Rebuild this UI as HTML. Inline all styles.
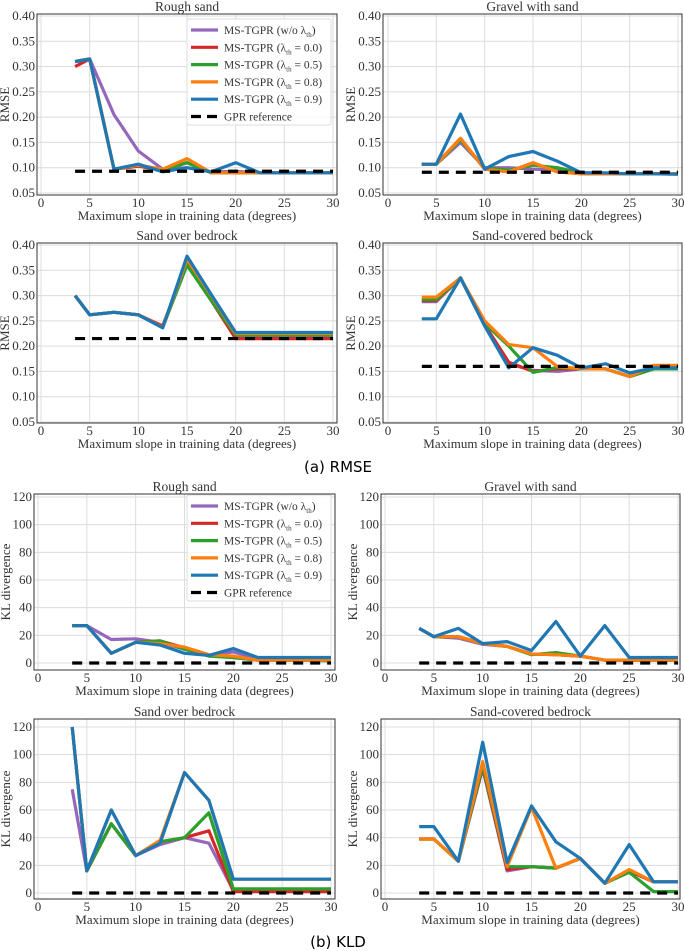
<!DOCTYPE html>
<html><head><meta charset="utf-8">
<style>
html,body{margin:0;padding:0;background:#fff;}
svg{display:block;}
text{font-family:"Liberation Serif",serif;fill:#333;}
.cap{font-family:"DejaVu Sans","Liberation Sans",sans-serif;fill:#000;}
</style></head>
<body>
<svg id="fig" width="685" height="951" viewBox="0 0 685 951" xmlns="http://www.w3.org/2000/svg">
<text class="cap" x="338" y="472" font-size="15" text-anchor="middle">(a) RMSE</text>
<text class="cap" x="338" y="947" font-size="15" text-anchor="middle">(b) KLD</text>
</svg>
<script>
const xs = [3.5,5,7.5,10,12.5,15,17.5,20,22.5,25,27.5,30];
const seriesNames = ["w/o","0.0","0.5","0.8","0.9"];
const seriesColors = ["#9467bd","#d62728","#2ca02c","#ff7f0e","#1f77b4"];
const xTicks = [0,5,10,15,20,25,30];
const rmseTicks = [0.05,0.10,0.15,0.20,0.25,0.30,0.35,0.40];
const rmseTickLabels = ["0.05","0.10","0.15","0.20","0.25","0.30","0.35","0.40"];
const kldTicks = [0,20,40,60,80,100,120];
const kldTickLabels = ["0","20","40","60","80","100","120"];

// RMSE Rough sand
const rmseRough_wo = [.31,.315,.205,.133,.097,.10,.092,.093,.09,.09,.09,.09];
const rmseRough_00 = [.30,.315,.097,.103,.095,.11,.09,.09,.09,.09,.09,.09];
const rmseRough_05 = [.31,.315,.097,.105,.095,.11,.09,.09,.09,.09,.09,.09];
const rmseRough_08 = [.31,.315,.097,.105,.097,.118,.09,.09,.09,.09,.09,.09];
const rmseRough_09 = [.31,.315,.097,.107,.092,.10,.092,.11,.09,.09,.09,.09];
const rmseRough_gpr = 0.093;
// RMSE Gravel with sand
const rmseGravel_wo = [.107,.107,.15,.10,.10,.097,.095,.09,.089,.088,.088,.088];
const rmseGravel_00 = [.107,.107,.158,.097,.092,.11,.092,.088,.088,.088,.088,.088];
const rmseGravel_05 = [.107,.107,.155,.10,.095,.105,.10,.09,.089,.088,.088,.088];
const rmseGravel_08 = [.107,.107,.158,.097,.092,.11,.092,.088,.088,.088,.088,.088];
const rmseGravel_09 = [.107,.107,.206,.097,.122,.132,.113,.09,.09,.088,.088,.087];
const rmseGravel_gpr = 0.091;
// RMSE Sand over bedrock
const rmseSob_wo = [.30,.262,.267,.262,.238,.37,.30,.218,.218,.218,.218,.218];
const rmseSob_00 = [.30,.262,.267,.262,.240,.365,.29,.215,.215,.215,.215,.215];
const rmseSob_05 = [.30,.262,.267,.262,.237,.36,.29,.222,.222,.222,.222,.222];
const rmseSob_08 = [.30,.262,.267,.262,.237,.372,.30,.225,.225,.225,.225,.225];
const rmseSob_09 = [.30,.262,.267,.262,.236,.378,.302,.227,.227,.227,.227,.227];
const rmseSob_gpr = 0.215;
// RMSE Sand-covered bedrock
const rmseScb_wo = [.288,.288,.335,.24,.165,.152,.15,.155,.155,.14,.155,.155];
const rmseScb_00 = [.29,.29,.335,.242,.168,.15,.155,.155,.155,.14,.155,.155];
const rmseScb_05 = [.292,.292,.335,.245,.20,.148,.158,.155,.155,.14,.155,.155];
const rmseScb_08 = [.297,.297,.335,.25,.203,.197,.16,.155,.155,.14,.162,.162];
const rmseScb_09 = [.254,.254,.335,.24,.157,.197,.182,.157,.165,.147,.157,.157];
const rmseScb_gpr = 0.16;
// KLD Rough sand
const kldRough_wo = [27,27,17,17.5,15,10,5.5,8,3,2,2,2];
const kldRough_00 = [27,27,7,15,16,11,5.5,4,2,2,2,2];
const kldRough_05 = [27,27,7,15,16,10,5,4,2,2,2,1.5];
const kldRough_08 = [27,27,7,15,14,11.5,6,5,2,2,2,2];
const kldRough_09 = [27,27,7,15,13,7,5.5,10.5,4,4,4,4];
const kldRough_gpr = 0;
// KLD Gravel with sand
const kldGravel_wo = [25,19,18,13.5,12,6.5,6,5,2,2,2,2];
const kldGravel_00 = [25,19,19,14,12,6.5,6,5,2,2,2,2];
const kldGravel_05 = [25,19,19,14,12,6,7.5,5,2,2,2,2];
const kldGravel_08 = [25,19,19,14,12,6.5,6,5,2,2,2,2];
const kldGravel_09 = [25,19,25,14,15.5,9,30,5,27,4,4,4];
const kldGravel_gpr = 0;
// KLD Sand over bedrock
const kldSob_wo = [75,16,50,27,35,40,36,2,2,2,2,2];
const kldSob_00 = [120,16,50,27,37,40,45,1,1,1,1,1];
const kldSob_05 = [120,16,50,27,37,40,58,3,3,3,3,3];
const kldSob_08 = [120,16,60,27,38,87,67,10,10,10,10,10];
const kldSob_09 = [120,16,60,27,36,87,67,10,10,10,10,10];
const kldSob_gpr = 0;
// KLD Sand-covered bedrock
const kldScb_wo = [39,39,23,90,16,19,18,25,7,16,8,8];
const kldScb_00 = [39,39,23,91,17,19,18,25,7,16,8,8];
const kldScb_05 = [39,39,23,92,19,19,18,25,7,15,1,1];
const kldScb_08 = [39,39,23,95,19,62,18,25,7,17,8,8];
const kldScb_09 = [48,48,23,109,22,63,37,25,7,35,8,8];
const kldScb_gpr = 0;

const NS = "http://www.w3.org/2000/svg";
const svg = document.getElementById('fig');
function mk(tag, attrs, parent){
  const e = document.createElementNS(NS, tag);
  for (const k in attrs) e.setAttribute(k, attrs[k]);
  (parent||svg).appendChild(e);
  return e;
}

const panels = [
  {key:"rough-rmse",title:"Rough sand",kind:"rmse",L:37,R:337,T:14,B:195,x0:41,x30:333,yA:16,yB:193,data:[rmseRough_wo,rmseRough_00,rmseRough_05,rmseRough_08,rmseRough_09],gpr:rmseRough_gpr,legend:{x:187,y:19}},
  {key:"gravel-rmse",title:"Gravel with sand",kind:"rmse",L:383,R:682,T:14,B:195,x0:388,x30:678,yA:16,yB:193,data:[rmseGravel_wo,rmseGravel_00,rmseGravel_05,rmseGravel_08,rmseGravel_09],gpr:rmseGravel_gpr},
  {key:"sob-rmse",title:"Sand over bedrock",kind:"rmse",L:37,R:337,T:243,B:423,x0:41,x30:333,yA:245,yB:422,data:[rmseSob_wo,rmseSob_00,rmseSob_05,rmseSob_08,rmseSob_09],gpr:rmseSob_gpr},
  {key:"scb-rmse",title:"Sand-covered bedrock",kind:"rmse",L:383,R:682,T:243,B:423,x0:388,x30:678,yA:245,yB:422,data:[rmseScb_wo,rmseScb_00,rmseScb_05,rmseScb_08,rmseScb_09],gpr:rmseScb_gpr},
  {key:"rough-kld",title:"Rough sand",kind:"kld",L:34,R:335,T:494,B:670,x0:38,x30:331,yA:497,yB:663,data:[kldRough_wo,kldRough_00,kldRough_05,kldRough_08,kldRough_09],gpr:kldRough_gpr,legend:{x:187,y:495}},
  {key:"gravel-kld",title:"Gravel with sand",kind:"kld",L:381,R:680,T:494,B:670,x0:385,x30:678,yA:497,yB:663,data:[kldGravel_wo,kldGravel_00,kldGravel_05,kldGravel_08,kldGravel_09],gpr:kldGravel_gpr},
  {key:"sob-kld",title:"Sand over bedrock",kind:"kld",L:34,R:335,T:719,B:899,x0:38,x30:331,yA:727,yB:893,data:[kldSob_wo,kldSob_00,kldSob_05,kldSob_08,kldSob_09],gpr:kldSob_gpr},
  {key:"scb-kld",title:"Sand-covered bedrock",kind:"kld",L:381,R:680,T:719,B:899,x0:385,x30:678,yA:727,yB:893,data:[kldScb_wo,kldScb_00,kldScb_05,kldScb_08,kldScb_09],gpr:kldScb_gpr}
];

panels.forEach(p => {
  const g = mk('g', {});
  
  
  const xScale = v => p.x0 + (v/30)*(p.x30 - p.x0);
  const ticks = p.kind === "rmse" ? rmseTicks : kldTicks;
  const labels = p.kind === "rmse" ? rmseTickLabels : kldTickLabels;
  const vA = ticks[ticks.length-1], vB = ticks[0];
  const yScale = v => p.yB + (v - vB)/(vA - vB)*(p.yA - p.yB);
  xTicks.forEach(t => {
    const gl = mk('line', {x1:xScale(t),x2:xScale(t),y1:p.T,y2:p.B,stroke:"#dcdcdc","stroke-width":1}, g);
    
    
    const tl = mk('text', {x:xScale(t),y:p.B+12,"font-size":13,"text-anchor":"middle"}, g);
    tl.textContent = t;
    
    
  });
  ticks.forEach((t,i) => {
    const gl = mk('line', {x1:p.L,x2:p.R,y1:yScale(t),y2:yScale(t),stroke:"#dcdcdc","stroke-width":1}, g);
    
    
    const tl = mk('text', {x:p.L-2,y:yScale(t)+4,"font-size":13,"text-anchor":"end"}, g);
    tl.textContent = labels[i];
    
    
  });
  p.data.forEach((arr, si) => {
    const pts = arr.map((v,i) => xScale(xs[i]).toFixed(1) + "," + yScale(v).toFixed(1)).join(" ");
    const pl = mk('polyline', {points:pts,fill:"none",stroke:seriesColors[si],"stroke-width":3.2,"stroke-linejoin":"round"}, g);
    
    
  });
  const ref = mk('line', {x1:xScale(xs[0]),x2:xScale(xs[xs.length-1]),y1:yScale(p.gpr),y2:yScale(p.gpr),stroke:"#000","stroke-width":3.2,"stroke-dasharray":"10,7"}, g);
  
  
  const fr = mk('rect', {x:p.L,y:p.T,width:p.R-p.L,height:p.B-p.T,fill:"none",stroke:"#333","stroke-width":1}, g);
  
  
  const ti = mk('text', {x:(p.L+p.R)/2,y:p.T-3,"font-size":13.5,"text-anchor":"middle"}, g);
  ti.textContent = p.title;
  
  
  const xl = mk('text', {x:(p.L+p.R)/2,y:p.B+25,"font-size":13,"text-anchor":"middle"}, g);
  xl.textContent = "Maximum slope in training data (degrees)";
  
  
  const yx = p.kind === "rmse" ? p.L - 28 : p.L - 24;
  const yc = (p.T+p.B)/2;
  const yl = mk('text', {x:yx,y:yc,"font-size":13,"text-anchor":"middle",transform:"rotate(-90 "+yx+" "+yc+")"}, g);
  yl.textContent = p.kind === "rmse" ? "RMSE" : "KL divergence";
  
  
  if (p.legend) {
    const lg = mk('g', {}, g);
    
    
    mk('rect', {x:p.legend.x,y:p.legend.y,width:144,height:106,fill:"#fff","fill-opacity":0.85,stroke:"#ddd","stroke-width":1,rx:2}, lg);
    const labelsL = ["MS-TGPR (w/o λ","MS-TGPR (λ","MS-TGPR (λ","MS-TGPR (λ","MS-TGPR (λ","GPR reference"];
    const tails = [")"," = 0.0)"," = 0.5)"," = 0.8)"," = 0.9)",""];
    for (let i=0;i<6;i++){
      const yy = p.legend.y + 11 + i*17.3;
      const ent = mk('g', {}, lg);
      
      
      if (i<5) mk('line', {x1:p.legend.x+4,x2:p.legend.x+31,y1:yy,y2:yy,stroke:seriesColors[i],"stroke-width":3.2}, ent);
      else mk('line', {x1:p.legend.x+4,x2:p.legend.x+31,y1:yy,y2:yy,stroke:"#000","stroke-width":3.2,"stroke-dasharray":"10,6"}, ent);
      const t = mk('text', {x:p.legend.x+37,y:yy+4,"font-size":11.5}, ent);
      t.textContent = labelsL[i];
      if (i<5){
        const s = mk('tspan', {"font-size":7,dy:3}, t); s.textContent = "th";
        const r = mk('tspan', {dy:-3}, t); r.textContent = tails[i];
      }
    }
  }
});
</script>
</body></html>
